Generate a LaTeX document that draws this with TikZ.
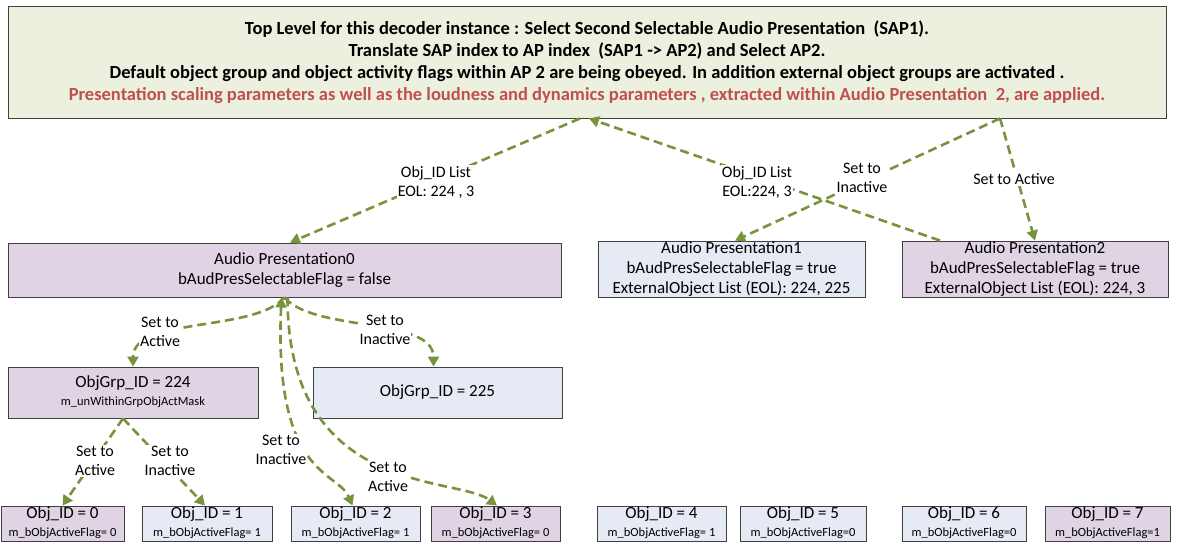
\documentclass[tikz,border=0pt]{standalone}
\usepackage{fontspec}
\setmainfont{Carlito}
\usetikzlibrary{arrows.meta,calc}
\definecolor{topfill}{HTML}{EBF1DE}
\definecolor{lav}{HTML}{E0D4E4}
\definecolor{lblue}{HTML}{E6EAF4}
\definecolor{edgec}{HTML}{404040}
\definecolor{arr}{HTML}{77933C}
\definecolor{redtxt}{HTML}{C0504D}
\begin{document}
\begin{tikzpicture}[x=1pt,y=-1pt,
 box/.style={draw=edgec, line width=0.9pt, inner sep=0pt, align=center},
 lavbox/.style={box, fill=lav},
 bluebox/.style={box, fill=lblue},
 objbox/.style={minimum width=#1, minimum height=35pt},
 conn/.style={draw=arr, line width=2.6pt, dash pattern=on 9pt off 5pt, -{Triangle[length=10pt,width=11pt]}},
 lbl/.style={fill=white, inner sep=1pt, align=center, font=\fontsize{16}{19}\selectfont},
 mid/.style={font=\fontsize{17}{20}\selectfont, align=center, inner sep=0pt},
 big/.style={font=\fontsize{17}{18}\selectfont, inner sep=0pt},
 small/.style={font=\fontsize{12.5}{13}\selectfont, inner sep=0pt},
]
\useasboundingbox[fill=white] (0,0) rectangle (1177,544);

% top box
\node[box, fill=topfill, minimum width=1158pt, minimum height=112pt,
      font=\bfseries\fontsize{18.5}{22}\selectfont] (top) at (587,62)
 {Top Level for this decoder instance : Select Second Selectable Audio Presentation\ \ (SAP1).\\
  Translate SAP index to AP index\ \ (SAP1 -> AP2) and Select AP2.\\
  Default object group and object activity flags within AP 2 are being obeyed. In addition external object groups are activated .\\
  \textcolor{redtxt}{Presentation scaling parameters as well as the loudness and dynamics parameters , extracted within Audio Presentation\ \ 2, are applied.}};

% audio presentations
\node[lavbox, mid, minimum width=553pt, minimum height=54pt] (ap0) at (284.5,270)
 {Audio Presentation0\\bAudPresSelectableFlag = false};
\node[bluebox, mid, minimum width=267pt, minimum height=56pt] (ap1) at (731.5,269)
 {Audio Presentation1\\bAudPresSelectableFlag = true\\ExternalObject List (EOL): 224, 225};
\node[lavbox, mid, minimum width=266pt, minimum height=56pt] (ap2) at (1035,269)
 {Audio Presentation2\\bAudPresSelectableFlag = true\\ExternalObject List (EOL): 224, 3};

% object groups
\node[lavbox, minimum width=250pt, minimum height=51pt] (g224) at (133,392.5) {};
\node[big] (g224t) at ($(g224.center)+(0,-9.5)$) {ObjGrp\_ID = 224};
\node[small] (g224s) at ($(g224.center)+(0,9.5)$) {m\_unWithinGrpObjActMask};
\node[bluebox, big, minimum width=249pt, minimum height=51pt] (g225) at (437.5,392.5) {ObjGrp\_ID = 225};

% objects
\foreach \n/\cx/\w/\st/\fl in {0/62.5/123/lavbox/{= 0},1/207/130/bluebox/{= 1},2/355.5/129/bluebox/{= 1},3/495.5/129/lavbox/{= 0},4/661.5/129/bluebox/{= 1},5/803/126/bluebox/{=0},6/964/124/bluebox/{=0},7/1107.5/125/lavbox/{=1}}{
  \node[\st, objbox=\w pt] (o\n) at (\cx,523.5) {};
  \node[big] (o\n t) at ($(o\n.center)+(0,-9.5)$) {Obj\_ID = \n};
  \node[small] (o\n s) at ($(o\n.center)+(0,9.5)$) {m\_bObjActiveFlag\fl};
}

% connectors from top
\draw[conn] ([xshift=-7pt]top.south) -- ([xshift=5.5pt]ap0.north);
\draw[conn] ([xshift=-95pt]ap2.north) -- ([xshift=2pt]top.south);
\draw[conn] ([xshift=413pt]top.south) -- ([xshift=3.5pt]ap1.north);
\draw[conn] ([xshift=413pt]top.south) -- (ap2.north);

% connectors from AP0
\draw[conn] (ap0.south) .. controls +(-30,35) and +(0,-50) .. (g224.north);
\draw[conn] (ap0.south) .. controls +(30,35) and +(0,-50) .. ([xshift=-4pt]g225.north);
\draw[conn, {Triangle[length=10pt,width=11pt]}-{Triangle[length=10pt,width=11pt]}]
  ([xshift=-3pt]ap0.south) .. controls +(-8,180) and +(-15,-35) .. ([xshift=-3pt]o2.north);
\draw[conn] ([xshift=3pt]ap0.south) .. controls +(0,200) and +(-40,-30) .. ([xshift=1.5pt]o3.north);

% connectors from group 224
\draw[conn] ([xshift=-10pt]g224.south) -- (o0.north);
\draw[conn] ([xshift=-10pt]g224.south) -- ([xshift=-2pt]o1.north);

% labels
\node[lbl] (l1) at (436,182) {Obj\_ID List\\EOL: 224 , 3};
\node[lbl] (l2) at (757,182) {Obj\_ID List\\EOL:224, 3};
\node[lbl] (l3) at (862,178) {Set to\\Inactive};
\node[lbl] (l4) at (1014,179) {Set to Active};
\node[lbl] (l5) at (160,332) {Set to\\Active};
\node[lbl] (l6) at (385,330) {Set to\\Inactive};
\node[lbl] (l7) at (281,450) {Set to\\Inactive};
\node[lbl] (l8) at (388,477) {Set to\\Active};
\node[lbl] (l9) at (95,461) {Set to\\Active};
\node[lbl] (l10) at (170,461) {Set to\\Inactive};
\end{tikzpicture}
\end{document}
